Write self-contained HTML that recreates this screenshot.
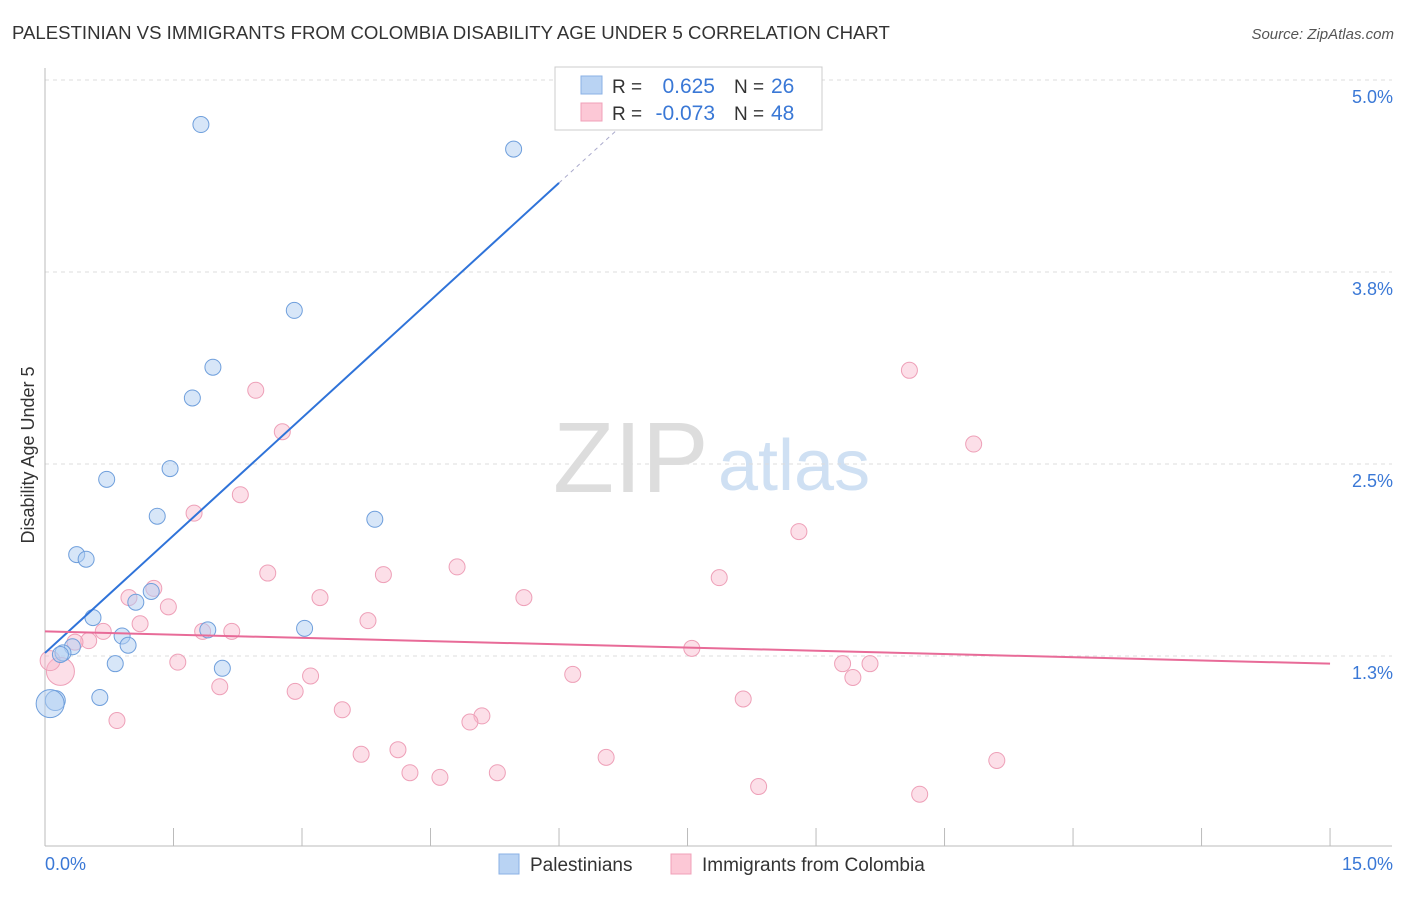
<!DOCTYPE html>
<html><head><meta charset="utf-8">
<style>
body{margin:0;background:#fff;font-family:"Liberation Sans",sans-serif;}
svg text{font-family:"Liberation Sans",sans-serif;}
</style></head>
<body>
<svg id="chart" width="1406" height="892">
<text x="12" y="39" font-size="18.6" fill="#333">PALESTINIAN VS IMMIGRANTS FROM COLOMBIA DISABILITY AGE UNDER 5 CORRELATION CHART</text>
<text x="1394" y="39" font-size="15" fill="#555" font-style="italic" text-anchor="end">Source: ZipAtlas.com</text>
<text x="34" y="455" font-size="18" fill="#333" text-anchor="middle" transform="rotate(-90 34 455)">Disability Age Under 5</text>
<text x="553" y="492" font-size="100" fill="#ddd" font-family="Liberation Serif">ZIP</text>
<text x="718" y="490" font-size="72" fill="#cfe0f3">atlas</text>
<g id="grid"></g>
<g id="axes"></g>
<g id="pts"></g>
<g id="lines"></g>
<g>
<rect x="555" y="67" width="267" height="63" fill="#fff" stroke="#ccc"/>
<rect x="581" y="76" width="21" height="18" fill="#b9d3f3" stroke="#8ab0e6"/>
<rect x="581" y="103" width="21" height="18" fill="#fcc8d6" stroke="#f0a0b8"/>
<text x="612" y="93" font-size="19" fill="#333">R =</text>
<text x="715" y="93" font-size="21" fill="#3a78d6" text-anchor="end">0.625</text>
<text x="734" y="93" font-size="19" fill="#333">N =</text>
<text x="771" y="93" font-size="21" fill="#3a78d6">26</text>
<text x="612" y="120" font-size="19" fill="#333">R =</text>
<text x="715" y="120" font-size="21" fill="#3a78d6" text-anchor="end">-0.073</text>
<text x="734" y="120" font-size="19" fill="#333">N =</text>
<text x="771" y="120" font-size="21" fill="#3a78d6">48</text>
</g>
<g>
<rect x="499" y="854" width="20" height="20" fill="#b9d3f3" stroke="#8ab0e6"/>
<text x="530" y="871" font-size="19" fill="#333">Palestinians</text>
<rect x="671" y="854" width="20" height="20" fill="#fcc8d6" stroke="#f0a0b8"/>
<text x="702" y="871" font-size="19" fill="#333">Immigrants from Colombia</text>
</g>
</svg>
<script>
const yTicks=[1.25,2.5,3.75,5.0];
const yTickLabels=["1.3%","2.5%","3.8%","5.0%"];
const xTicks=[0,1.5,3,4.5,6,7.5,9,10.5,12,13.5,15];
const xEndLabels=["0.0%","15.0%"];
const blueX=[1.82,5.47,2.91,1.96,1.72,1.46,0.72,1.31,3.85,0.37,0.48,1.24,1.06,0.56,1.90,3.03,0.90,0.32,0.97,0.21,0.82,2.07,0.64,0.12,0.06,0.18];
const blueY=[4.71,4.55,3.50,3.13,2.93,2.47,2.40,2.16,2.14,1.91,1.88,1.67,1.60,1.50,1.42,1.43,1.38,1.31,1.32,1.27,1.20,1.17,0.98,0.96,0.94,1.26];
const blueR=[8,8,8,8,8,8,8,8,8,8,8,8,8,8,8,8,8,8,8,8,8,8,8,10,14,8];
const pinkX=[10.09,2.46,10.84,2.77,2.28,1.74,8.80,2.60,3.95,4.81,7.87,1.27,0.98,3.21,5.59,1.44,1.11,3.77,0.68,1.84,2.18,0.51,0.35,1.55,7.55,9.31,9.63,9.43,6.16,3.10,2.04,2.92,8.15,3.47,5.10,4.96,0.84,3.69,4.12,6.55,11.11,4.26,5.28,4.61,8.33,10.21,0.18,0.06];
const pinkY=[3.11,2.98,2.63,2.71,2.30,2.18,2.06,1.79,1.78,1.83,1.76,1.69,1.63,1.63,1.63,1.57,1.46,1.48,1.41,1.41,1.41,1.35,1.34,1.21,1.30,1.20,1.20,1.11,1.13,1.12,1.05,1.02,0.97,0.90,0.86,0.82,0.83,0.61,0.64,0.59,0.57,0.49,0.49,0.46,0.40,0.35,1.15,1.22];
const blueTrend=[1.27,0.51]; // intercept, slope
const pinkTrend=[1.41,-0.014];
const NS="http://www.w3.org/2000/svg";
const xS=v=>45+v*85.67, yS=v=>80+(5-v)*153.6;
function mk(p,tag,at){const e=document.createElementNS(NS,tag);for(const k in at)e.setAttribute(k,at[k]);p.appendChild(e);return e;}
const grid=document.getElementById('grid'),axes=document.getElementById('axes'),pts=document.getElementById('pts'),lines=document.getElementById('lines');
yTicks.forEach((t,i)=>{
 const l=mk(grid,'line',{x1:45,x2:1392,y1:yS(t),y2:yS(t),stroke:'#ddd','stroke-dasharray':'4 4'});
 
 
 const tx=mk(axes,'text',{x:1393,y:yS(t)+23,'font-size':18,fill:'#3a78d6','text-anchor':'end'});tx.textContent=yTickLabels[i];
 
 
});
const ya=mk(axes,'line',{x1:45,x2:45,y1:68,y2:846,stroke:'#bbb'});


const xa=mk(axes,'line',{x1:45,x2:1392,y1:846,y2:846,stroke:'#bbb'});


xTicks.forEach(t=>{const l=mk(axes,'line',{x1:xS(t),x2:xS(t),y1:828,y2:846,stroke:'#bbb'});
 
 });
const xl0=mk(axes,'text',{x:45,y:870,'font-size':18,fill:'#3a78d6'});xl0.textContent=xEndLabels[0];


const xl1=mk(axes,'text',{x:1393,y:870,'font-size':18,fill:'#3a78d6','text-anchor':'end'});xl1.textContent=xEndLabels[1];


pinkX.forEach((x,i)=>{const c=mk(pts,'circle',{cx:xS(x),cy:yS(pinkY[i]),r:i>=46?(i==46?14:10):8,fill:'rgba(249,184,204,0.45)',stroke:'#eea0b8','stroke-width':1});
 
 });
blueX.forEach((x,i)=>{const c=mk(pts,'circle',{cx:xS(x),cy:yS(blueY[i]),r:blueR[i],fill:'rgba(175,205,242,0.5)',stroke:'#6f9fdc','stroke-width':1});
 
 });
const bEnd=6.0, bDash=(5-blueTrend[0])/blueTrend[1];
const bl=mk(lines,'line',{x1:xS(0),y1:yS(blueTrend[0]),x2:xS(bEnd),y2:yS(blueTrend[0]+blueTrend[1]*bEnd),stroke:'#2f73d9','stroke-width':2});


const bd=mk(lines,'line',{x1:xS(bEnd),y1:yS(blueTrend[0]+blueTrend[1]*bEnd),x2:xS(bDash),y2:yS(5),stroke:'#aac','stroke-width':1,'stroke-dasharray':'4 4'});


const pl=mk(lines,'line',{x1:xS(0),y1:yS(pinkTrend[0]),x2:xS(15),y2:yS(pinkTrend[0]+pinkTrend[1]*15),stroke:'#e86b98','stroke-width':2});


</script>
</body></html>
